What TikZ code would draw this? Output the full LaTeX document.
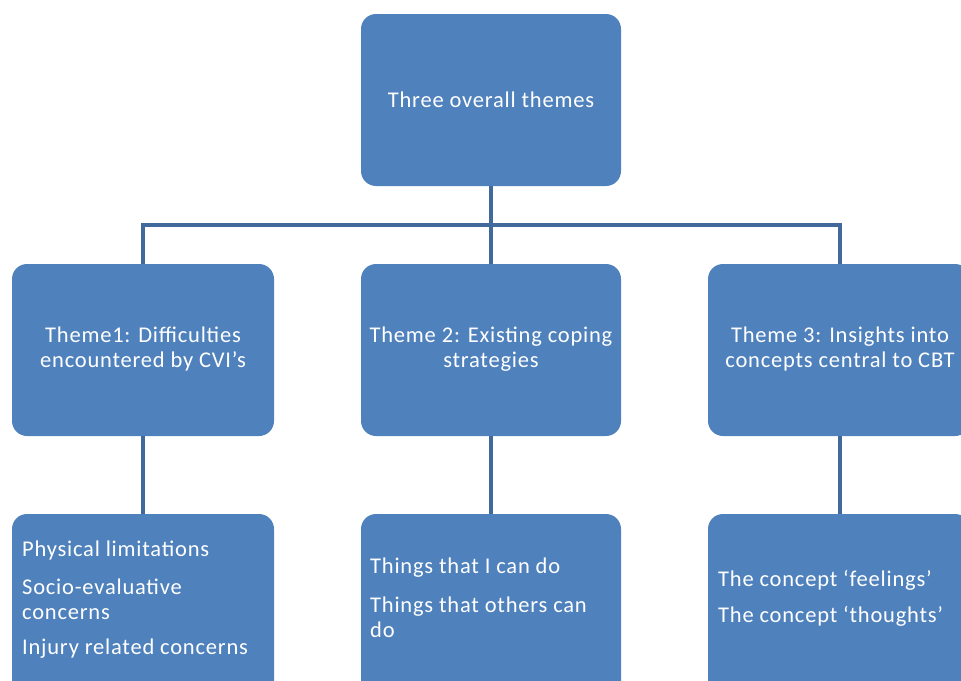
\documentclass[tikz,border=0pt]{standalone}
\usepackage{fontspec}
\setmainfont{Carlito}[LetterSpace=3.5]
\definecolor{boxblue}{HTML}{4F81BD}
\definecolor{linkblue}{HTML}{41699B}
\begin{document}
\begin{tikzpicture}[x=1pt,y=-1pt,
  themebox/.style={fill=boxblue, rounded corners=15pt, draw=none},
  label/.style={text=white, font=\fontsize{22.5}{25}\selectfont, inner sep=0pt},
  link/.style={draw=linkblue, line width=4pt}]
\useasboundingbox (0,0) rectangle (961,680);

% boxes
\path[themebox] (361,14) rectangle (621,186);
\node[coordinate] (top) at (491,186) {};
\path[themebox] (12,264) rectangle (274,436);
\path[themebox] (361,264) rectangle (621,436);
\path[themebox] (708,264) rectangle (970,436);
\path[themebox] (12,514) rectangle (274,700);
\path[themebox] (361,514) rectangle (621,700);
\path[themebox] (708,514) rectangle (970,700);

% box anchors
\coordinate (t1n) at (143,264);
\coordinate (t2n) at (491,264);
\coordinate (t3n) at (840,264);
\coordinate (t1s) at (143,436);
\coordinate (t2s) at (491,436);
\coordinate (t3s) at (840,436);
\coordinate (b1n) at (143,514);
\coordinate (b2n) at (491,514);
\coordinate (b3n) at (840,514);
\coordinate (j) at (491,225);

% connectors
\draw[link] (top) -- (j);
\draw[link] (t1n) |- (j) -| (t3n);
\draw[link] (j) -- (t2n);
\draw[link] (t1s) -- (b1n);
\draw[link] (t2s) -- (b2n);
\draw[link] (t3s) -- (b3n);

% texts
\node[label] (l0) at (491,100) {Three overall themes};
\node[label, align=center] (l1) at (143,349) {Theme1: Difficulties\\encountered by CVI’s};
\node[label, align=center] (l2) at (491,349) {Theme 2: Existing coping\\strategies};
\node[label, align=center] (l3) at (840,349) {Theme 3: Insights into\\concepts central to CBT};

\node[label, anchor=west] (p1) at (22,550) {Physical limitations};
\node[label, anchor=west, align=left] (p2) at (22,599.5) {Socio-evaluative\\concerns};
\node[label, anchor=west] (p3) at (22,649) {Injury related concerns};

\node[label, anchor=west] (q1) at (370,568) {Things that I can do};
\node[label, anchor=west, align=left] (q2) at (370,617.5) {Things that others can\\do};

\node[label, anchor=west] (r1) at (718,580) {The concept ‘feelings’};
\node[label, anchor=west] (r2) at (718,616) {The concept ‘thoughts’};
\end{tikzpicture}
\end{document}
